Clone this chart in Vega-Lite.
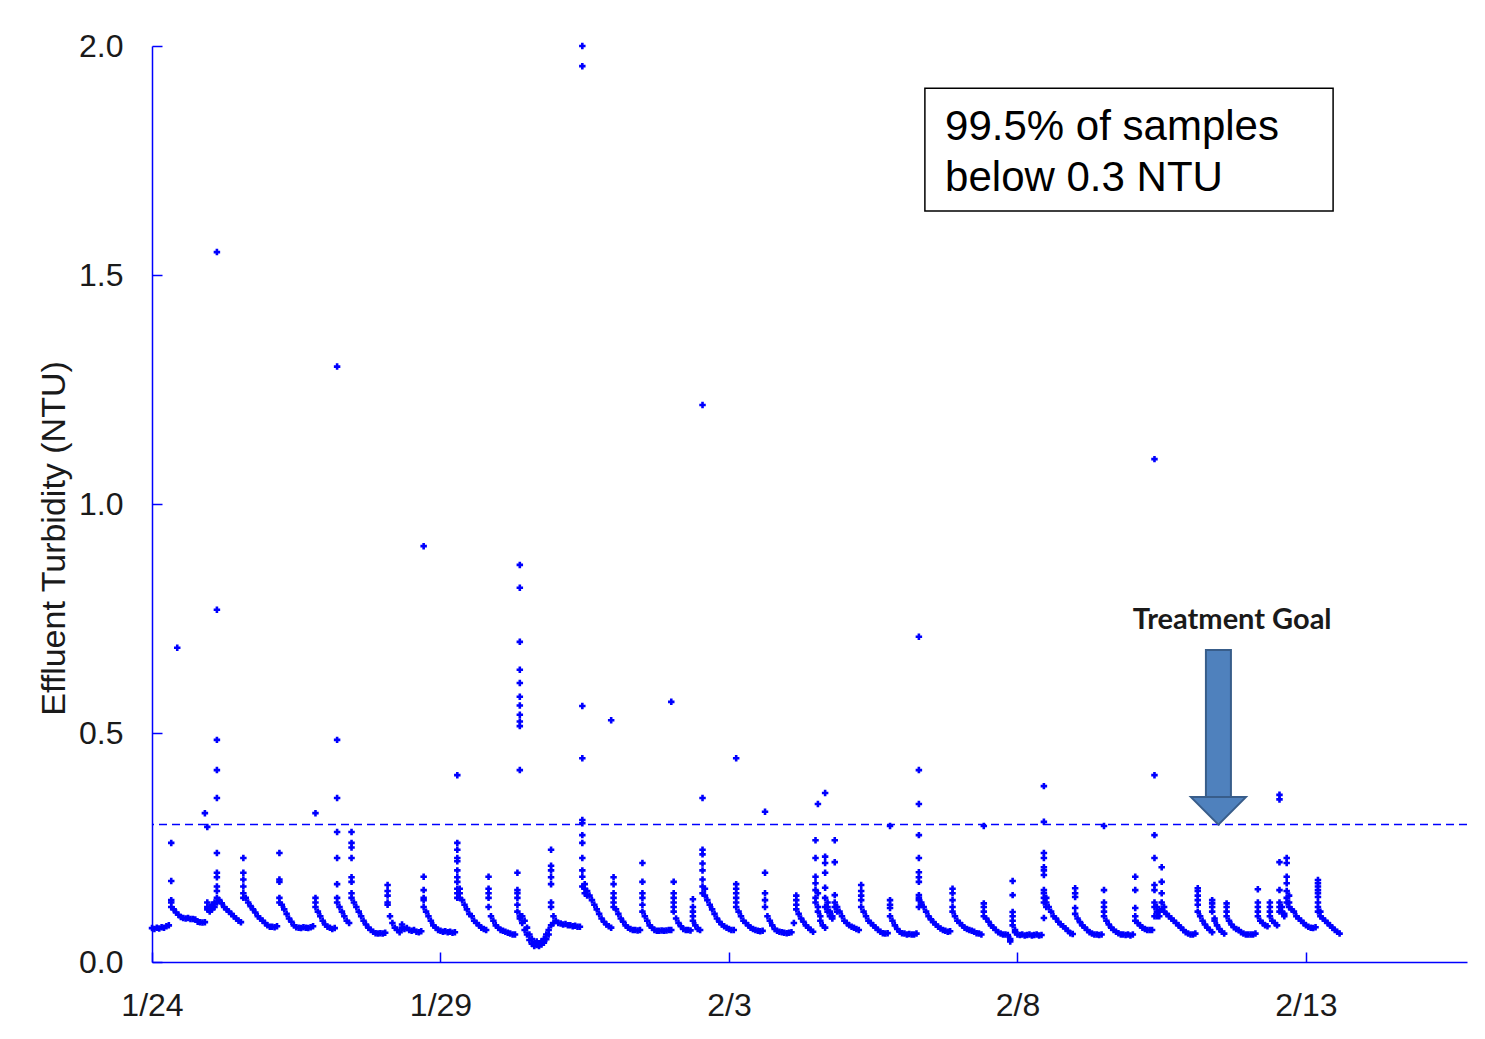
{
"$schema":"https://vega.github.io/schema/vega-lite/v6.json",
"width":1315,"height":916,
"autosize":{"type":"none"},
"padding":{"left":152,"top":46,"right":18,"bottom":77},
"background":"#ffffff",
"config":{"view":{"stroke":null},"axis":{"grid":false,"domainColor":"#0000ff","domainWidth":1.5,"tickColor":"#0000ff","tickWidth":1.5,"labelFont":"Liberation Sans","labelColor":"#1a1a1a","titleFont":"Liberation Sans","titleColor":"#1a1a1a"}},
"datasets":{
"turb":[
{"t":"2011-01-24T00:00","v":0.074},{"t":"2011-01-24T01:00","v":0.072},{"t":"2011-01-24T02:00","v":0.075},{"t":"2011-01-24T03:00","v":0.073},{"t":"2011-01-24T04:00","v":0.076},{"t":"2011-01-24T05:00","v":0.075},{"t":"2011-01-24T06:00","v":0.078},{"t":"2011-01-24T07:00","v":0.08},
{"t":"2011-01-24T08:00","v":0.26},{"t":"2011-01-24T08:00","v":0.177},{"t":"2011-01-24T08:00","v":0.135},{"t":"2011-01-24T08:00","v":0.13},{"t":"2011-01-24T08:00","v":0.12},
{"t":"2011-01-24T09:00","v":0.115},{"t":"2011-01-24T10:00","v":0.108},{"t":"2011-01-24T10:30","v":0.686},{"t":"2011-01-24T11:00","v":0.103},{"t":"2011-01-24T12:00","v":0.098},{"t":"2011-01-24T13:00","v":0.096},{"t":"2011-01-24T14:00","v":0.095},{"t":"2011-01-24T15:00","v":0.096},{"t":"2011-01-24T16:00","v":0.094},{"t":"2011-01-24T17:00","v":0.094},{"t":"2011-01-24T18:00","v":0.093},{"t":"2011-01-24T19:00","v":0.088},{"t":"2011-01-24T20:00","v":0.087},{"t":"2011-01-24T21:00","v":0.086},{"t":"2011-01-24T22:00","v":0.087},{"t":"2011-01-24T22:00","v":0.325},
{"t":"2011-01-24T23:00","v":0.295},{"t":"2011-01-24T23:00","v":0.13},{"t":"2011-01-24T23:00","v":0.12},{"t":"2011-01-24T23:00","v":0.115},
{"t":"2011-01-25T00:00","v":0.12},{"t":"2011-01-25T00:00","v":0.11},{"t":"2011-01-25T01:00","v":0.115},{"t":"2011-01-25T01:00","v":0.125},{"t":"2011-01-25T02:00","v":0.13},{"t":"2011-01-25T02:00","v":0.12},
{"t":"2011-01-25T03:00","v":1.55},{"t":"2011-01-25T03:00","v":0.769},{"t":"2011-01-25T03:00","v":0.485},{"t":"2011-01-25T03:00","v":0.419},{"t":"2011-01-25T03:00","v":0.358},{"t":"2011-01-25T03:00","v":0.238},{"t":"2011-01-25T03:00","v":0.195},{"t":"2011-01-25T03:00","v":0.185},{"t":"2011-01-25T03:00","v":0.165},{"t":"2011-01-25T03:00","v":0.155},{"t":"2011-01-25T03:00","v":0.14},{"t":"2011-01-25T03:00","v":0.13},
{"t":"2011-01-25T04:00","v":0.135},{"t":"2011-01-25T05:00","v":0.128},{"t":"2011-01-25T06:00","v":0.12},{"t":"2011-01-25T07:00","v":0.115},{"t":"2011-01-25T08:00","v":0.11},{"t":"2011-01-25T09:00","v":0.105},{"t":"2011-01-25T10:00","v":0.1},{"t":"2011-01-25T11:00","v":0.095},{"t":"2011-01-25T12:00","v":0.09},{"t":"2011-01-25T13:00","v":0.087},
{"t":"2011-01-25T14:00","v":0.227},{"t":"2011-01-25T14:00","v":0.195},{"t":"2011-01-25T14:00","v":0.18},{"t":"2011-01-25T14:00","v":0.165},{"t":"2011-01-25T14:00","v":0.15},{"t":"2011-01-25T14:00","v":0.14},
{"t":"2011-01-25T15:00","v":0.14},{"t":"2011-01-25T16:00","v":0.13},{"t":"2011-01-25T17:00","v":0.122},{"t":"2011-01-25T18:00","v":0.115},{"t":"2011-01-25T19:00","v":0.108},{"t":"2011-01-25T20:00","v":0.1},{"t":"2011-01-25T21:00","v":0.095},{"t":"2011-01-25T22:00","v":0.09},{"t":"2011-01-25T23:00","v":0.085},
{"t":"2011-01-26T00:00","v":0.08},{"t":"2011-01-26T01:00","v":0.077},{"t":"2011-01-26T02:00","v":0.077},{"t":"2011-01-26T03:00","v":0.076},{"t":"2011-01-26T04:00","v":0.078},
{"t":"2011-01-26T05:00","v":0.238},{"t":"2011-01-26T05:00","v":0.18},{"t":"2011-01-26T05:00","v":0.175},{"t":"2011-01-26T05:00","v":0.14},{"t":"2011-01-26T05:00","v":0.13},
{"t":"2011-01-26T06:00","v":0.125},{"t":"2011-01-26T07:00","v":0.115},{"t":"2011-01-26T08:00","v":0.105},{"t":"2011-01-26T09:00","v":0.095},{"t":"2011-01-26T10:00","v":0.088},{"t":"2011-01-26T11:00","v":0.08},{"t":"2011-01-26T12:00","v":0.076},{"t":"2011-01-26T13:00","v":0.075},{"t":"2011-01-26T14:00","v":0.074},{"t":"2011-01-26T15:00","v":0.076},{"t":"2011-01-26T16:00","v":0.075},{"t":"2011-01-26T17:00","v":0.074},{"t":"2011-01-26T18:00","v":0.076},{"t":"2011-01-26T19:00","v":0.078},
{"t":"2011-01-26T20:00","v":0.325},{"t":"2011-01-26T20:00","v":0.14},{"t":"2011-01-26T20:00","v":0.13},{"t":"2011-01-26T20:00","v":0.12},
{"t":"2011-01-26T21:00","v":0.11},{"t":"2011-01-26T22:00","v":0.1},{"t":"2011-01-26T23:00","v":0.09},
{"t":"2011-01-27T00:00","v":0.082},{"t":"2011-01-27T01:00","v":0.077},{"t":"2011-01-27T02:00","v":0.075},{"t":"2011-01-27T03:00","v":0.072},{"t":"2011-01-27T04:00","v":0.074},
{"t":"2011-01-27T05:00","v":1.3},{"t":"2011-01-27T05:00","v":0.485},{"t":"2011-01-27T05:00","v":0.358},{"t":"2011-01-27T05:00","v":0.284},{"t":"2011-01-27T05:00","v":0.227},{"t":"2011-01-27T05:00","v":0.17},{"t":"2011-01-27T05:00","v":0.14},{"t":"2011-01-27T05:00","v":0.13},
{"t":"2011-01-27T06:00","v":0.12},{"t":"2011-01-27T07:00","v":0.11},{"t":"2011-01-27T08:00","v":0.1},{"t":"2011-01-27T09:00","v":0.09},{"t":"2011-01-27T10:00","v":0.085},
{"t":"2011-01-27T11:00","v":0.284},{"t":"2011-01-27T11:00","v":0.26},{"t":"2011-01-27T11:00","v":0.25},{"t":"2011-01-27T11:00","v":0.227},{"t":"2011-01-27T11:00","v":0.185},{"t":"2011-01-27T11:00","v":0.175},{"t":"2011-01-27T11:00","v":0.15},{"t":"2011-01-27T11:00","v":0.14},
{"t":"2011-01-27T12:00","v":0.13},{"t":"2011-01-27T13:00","v":0.12},{"t":"2011-01-27T14:00","v":0.11},{"t":"2011-01-27T15:00","v":0.1},{"t":"2011-01-27T16:00","v":0.09},{"t":"2011-01-27T17:00","v":0.082},{"t":"2011-01-27T18:00","v":0.075},{"t":"2011-01-27T19:00","v":0.07},{"t":"2011-01-27T20:00","v":0.066},{"t":"2011-01-27T21:00","v":0.063},{"t":"2011-01-27T22:00","v":0.062},{"t":"2011-01-27T23:00","v":0.063},
{"t":"2011-01-28T00:00","v":0.062},{"t":"2011-01-28T01:00","v":0.064},
{"t":"2011-01-28T02:00","v":0.168},{"t":"2011-01-28T02:00","v":0.155},{"t":"2011-01-28T02:00","v":0.145},{"t":"2011-01-28T02:00","v":0.13},{"t":"2011-01-28T02:00","v":0.125},
{"t":"2011-01-28T03:00","v":0.1},{"t":"2011-01-28T04:00","v":0.085},{"t":"2011-01-28T05:00","v":0.075},{"t":"2011-01-28T06:00","v":0.07},{"t":"2011-01-28T07:00","v":0.065},{"t":"2011-01-28T08:00","v":0.082},{"t":"2011-01-28T08:00","v":0.075},{"t":"2011-01-28T09:00","v":0.072},{"t":"2011-01-28T10:00","v":0.074},{"t":"2011-01-28T11:00","v":0.07},{"t":"2011-01-28T12:00","v":0.068},{"t":"2011-01-28T13:00","v":0.07},{"t":"2011-01-28T14:00","v":0.066},{"t":"2011-01-28T15:00","v":0.065},{"t":"2011-01-28T16:00","v":0.067},
{"t":"2011-01-28T17:00","v":0.908},{"t":"2011-01-28T17:00","v":0.186},{"t":"2011-01-28T17:00","v":0.157},{"t":"2011-01-28T17:00","v":0.14},{"t":"2011-01-28T17:00","v":0.135},{"t":"2011-01-28T17:00","v":0.12},
{"t":"2011-01-28T18:00","v":0.11},{"t":"2011-01-28T19:00","v":0.1},{"t":"2011-01-28T20:00","v":0.09},{"t":"2011-01-28T21:00","v":0.08},{"t":"2011-01-28T22:00","v":0.075},{"t":"2011-01-28T23:00","v":0.07},
{"t":"2011-01-29T00:00","v":0.068},{"t":"2011-01-29T01:00","v":0.066},{"t":"2011-01-29T02:00","v":0.067},{"t":"2011-01-29T03:00","v":0.065},{"t":"2011-01-29T04:00","v":0.066},{"t":"2011-01-29T05:00","v":0.064},{"t":"2011-01-29T06:00","v":0.065},
{"t":"2011-01-29T07:00","v":0.408},{"t":"2011-01-29T07:00","v":0.26},{"t":"2011-01-29T07:00","v":0.245},{"t":"2011-01-29T07:00","v":0.227},{"t":"2011-01-29T07:00","v":0.22},{"t":"2011-01-29T07:00","v":0.2},{"t":"2011-01-29T07:00","v":0.185},{"t":"2011-01-29T07:00","v":0.175},{"t":"2011-01-29T07:00","v":0.16},{"t":"2011-01-29T07:00","v":0.15},{"t":"2011-01-29T07:00","v":0.14},
{"t":"2011-01-29T08:00","v":0.16},{"t":"2011-01-29T08:00","v":0.15},{"t":"2011-01-29T08:00","v":0.14},
{"t":"2011-01-29T09:00","v":0.135},{"t":"2011-01-29T10:00","v":0.125},{"t":"2011-01-29T11:00","v":0.115},{"t":"2011-01-29T12:00","v":0.105},{"t":"2011-01-29T13:00","v":0.1},{"t":"2011-01-29T14:00","v":0.09},{"t":"2011-01-29T15:00","v":0.085},{"t":"2011-01-29T16:00","v":0.08},{"t":"2011-01-29T17:00","v":0.075},{"t":"2011-01-29T18:00","v":0.072},{"t":"2011-01-29T19:00","v":0.07},
{"t":"2011-01-29T20:00","v":0.186},{"t":"2011-01-29T20:00","v":0.16},{"t":"2011-01-29T20:00","v":0.15},{"t":"2011-01-29T20:00","v":0.14},{"t":"2011-01-29T20:00","v":0.12},
{"t":"2011-01-29T21:00","v":0.1},{"t":"2011-01-29T22:00","v":0.09},{"t":"2011-01-29T23:00","v":0.08},
{"t":"2011-01-30T00:00","v":0.075},{"t":"2011-01-30T01:00","v":0.07},{"t":"2011-01-30T02:00","v":0.068},{"t":"2011-01-30T03:00","v":0.066},{"t":"2011-01-30T04:00","v":0.064},{"t":"2011-01-30T05:00","v":0.062},{"t":"2011-01-30T06:00","v":0.06},{"t":"2011-01-30T07:00","v":0.06},
{"t":"2011-01-30T08:00","v":0.195},{"t":"2011-01-30T08:00","v":0.157},{"t":"2011-01-30T08:00","v":0.15},{"t":"2011-01-30T08:00","v":0.14},{"t":"2011-01-30T08:00","v":0.125},{"t":"2011-01-30T08:00","v":0.11},
{"t":"2011-01-30T09:00","v":0.867},{"t":"2011-01-30T09:00","v":0.817},{"t":"2011-01-30T09:00","v":0.699},{"t":"2011-01-30T09:00","v":0.638},{"t":"2011-01-30T09:00","v":0.609},{"t":"2011-01-30T09:00","v":0.579},{"t":"2011-01-30T09:00","v":0.56},{"t":"2011-01-30T09:00","v":0.54},{"t":"2011-01-30T09:00","v":0.525},{"t":"2011-01-30T09:00","v":0.515},{"t":"2011-01-30T09:00","v":0.419},{"t":"2011-01-30T09:00","v":0.1},{"t":"2011-01-30T09:00","v":0.095},
{"t":"2011-01-30T10:00","v":0.1},{"t":"2011-01-30T10:00","v":0.085},{"t":"2011-01-30T11:00","v":0.09},{"t":"2011-01-30T11:00","v":0.07},{"t":"2011-01-30T12:00","v":0.075},{"t":"2011-01-30T12:00","v":0.06},{"t":"2011-01-30T13:00","v":0.06},{"t":"2011-01-30T13:00","v":0.048},{"t":"2011-01-30T14:00","v":0.05},{"t":"2011-01-30T14:00","v":0.04},{"t":"2011-01-30T15:00","v":0.04},{"t":"2011-01-30T15:00","v":0.035},{"t":"2011-01-30T16:00","v":0.037},{"t":"2011-01-30T16:00","v":0.045},{"t":"2011-01-30T17:00","v":0.035},{"t":"2011-01-30T17:00","v":0.04},{"t":"2011-01-30T18:00","v":0.038},{"t":"2011-01-30T18:00","v":0.045},{"t":"2011-01-30T19:00","v":0.042},{"t":"2011-01-30T19:00","v":0.05},{"t":"2011-01-30T20:00","v":0.05},{"t":"2011-01-30T20:00","v":0.06},{"t":"2011-01-30T21:00","v":0.06},{"t":"2011-01-30T21:00","v":0.07},
{"t":"2011-01-30T22:00","v":0.245},{"t":"2011-01-30T22:00","v":0.21},{"t":"2011-01-30T22:00","v":0.2},{"t":"2011-01-30T22:00","v":0.185},{"t":"2011-01-30T22:00","v":0.17},{"t":"2011-01-30T22:00","v":0.13},{"t":"2011-01-30T22:00","v":0.12},{"t":"2011-01-30T22:00","v":0.08},
{"t":"2011-01-30T23:00","v":0.1},{"t":"2011-01-30T23:00","v":0.085},
{"t":"2011-01-31T00:00","v":0.09},{"t":"2011-01-31T01:00","v":0.085},{"t":"2011-01-31T02:00","v":0.084},{"t":"2011-01-31T03:00","v":0.082},{"t":"2011-01-31T04:00","v":0.083},{"t":"2011-01-31T05:00","v":0.08},{"t":"2011-01-31T06:00","v":0.08},{"t":"2011-01-31T07:00","v":0.078},{"t":"2011-01-31T08:00","v":0.079},{"t":"2011-01-31T09:00","v":0.077},{"t":"2011-01-31T10:00","v":0.077},
{"t":"2011-01-31T11:00","v":2.0},{"t":"2011-01-31T11:00","v":1.956},{"t":"2011-01-31T11:00","v":0.559},{"t":"2011-01-31T11:00","v":0.445},{"t":"2011-01-31T11:00","v":0.31},{"t":"2011-01-31T11:00","v":0.303},{"t":"2011-01-31T11:00","v":0.277},{"t":"2011-01-31T11:00","v":0.26},{"t":"2011-01-31T11:00","v":0.227},{"t":"2011-01-31T11:00","v":0.2},{"t":"2011-01-31T11:00","v":0.186},{"t":"2011-01-31T11:00","v":0.165},
{"t":"2011-01-31T12:00","v":0.17},{"t":"2011-01-31T12:00","v":0.16},{"t":"2011-01-31T12:00","v":0.15},{"t":"2011-01-31T13:00","v":0.155},{"t":"2011-01-31T13:00","v":0.145},{"t":"2011-01-31T14:00","v":0.145},{"t":"2011-01-31T15:00","v":0.135},{"t":"2011-01-31T16:00","v":0.125},{"t":"2011-01-31T17:00","v":0.115},{"t":"2011-01-31T18:00","v":0.105},{"t":"2011-01-31T19:00","v":0.095},{"t":"2011-01-31T20:00","v":0.088},{"t":"2011-01-31T21:00","v":0.082},{"t":"2011-01-31T22:00","v":0.078},
{"t":"2011-01-31T23:00","v":0.528},{"t":"2011-01-31T23:00","v":0.075},
{"t":"2011-02-01T00:00","v":0.185},{"t":"2011-02-01T00:00","v":0.17},{"t":"2011-02-01T00:00","v":0.15},{"t":"2011-02-01T00:00","v":0.14},{"t":"2011-02-01T00:00","v":0.13},{"t":"2011-02-01T00:00","v":0.12},
{"t":"2011-02-01T01:00","v":0.115},{"t":"2011-02-01T02:00","v":0.105},{"t":"2011-02-01T03:00","v":0.095},{"t":"2011-02-01T04:00","v":0.088},{"t":"2011-02-01T05:00","v":0.08},{"t":"2011-02-01T06:00","v":0.075},{"t":"2011-02-01T07:00","v":0.072},{"t":"2011-02-01T08:00","v":0.07},{"t":"2011-02-01T09:00","v":0.07},{"t":"2011-02-01T10:00","v":0.069},{"t":"2011-02-01T11:00","v":0.07},
{"t":"2011-02-01T12:00","v":0.216},{"t":"2011-02-01T12:00","v":0.175},{"t":"2011-02-01T12:00","v":0.15},{"t":"2011-02-01T12:00","v":0.14},{"t":"2011-02-01T12:00","v":0.125},{"t":"2011-02-01T12:00","v":0.11},
{"t":"2011-02-01T13:00","v":0.1},{"t":"2011-02-01T14:00","v":0.09},{"t":"2011-02-01T15:00","v":0.08},{"t":"2011-02-01T16:00","v":0.075},{"t":"2011-02-01T17:00","v":0.07},{"t":"2011-02-01T18:00","v":0.068},{"t":"2011-02-01T19:00","v":0.068},{"t":"2011-02-01T20:00","v":0.069},{"t":"2011-02-01T21:00","v":0.068},{"t":"2011-02-01T22:00","v":0.069},{"t":"2011-02-01T23:00","v":0.07},
{"t":"2011-02-02T00:00","v":0.568},{"t":"2011-02-02T00:00","v":0.07},
{"t":"2011-02-02T01:00","v":0.175},{"t":"2011-02-02T01:00","v":0.15},{"t":"2011-02-02T01:00","v":0.14},{"t":"2011-02-02T01:00","v":0.13},{"t":"2011-02-02T01:00","v":0.12},{"t":"2011-02-02T01:00","v":0.11},
{"t":"2011-02-02T02:00","v":0.095},{"t":"2011-02-02T03:00","v":0.085},{"t":"2011-02-02T04:00","v":0.078},{"t":"2011-02-02T05:00","v":0.072},{"t":"2011-02-02T06:00","v":0.07},{"t":"2011-02-02T07:00","v":0.07},{"t":"2011-02-02T08:00","v":0.069},
{"t":"2011-02-02T09:00","v":0.137},{"t":"2011-02-02T09:00","v":0.12},{"t":"2011-02-02T09:00","v":0.11},{"t":"2011-02-02T09:00","v":0.1},{"t":"2011-02-02T09:00","v":0.09},
{"t":"2011-02-02T10:00","v":0.08},{"t":"2011-02-02T11:00","v":0.072},{"t":"2011-02-02T12:00","v":0.07},
{"t":"2011-02-02T13:00","v":1.216},{"t":"2011-02-02T13:00","v":0.358},{"t":"2011-02-02T13:00","v":0.245},{"t":"2011-02-02T13:00","v":0.235},{"t":"2011-02-02T13:00","v":0.215},{"t":"2011-02-02T13:00","v":0.2},{"t":"2011-02-02T13:00","v":0.18},{"t":"2011-02-02T13:00","v":0.165},{"t":"2011-02-02T13:00","v":0.15},
{"t":"2011-02-02T14:00","v":0.16},{"t":"2011-02-02T14:00","v":0.145},{"t":"2011-02-02T15:00","v":0.135},{"t":"2011-02-02T16:00","v":0.125},{"t":"2011-02-02T17:00","v":0.115},{"t":"2011-02-02T18:00","v":0.105},{"t":"2011-02-02T19:00","v":0.095},{"t":"2011-02-02T20:00","v":0.088},{"t":"2011-02-02T21:00","v":0.082},{"t":"2011-02-02T22:00","v":0.078},{"t":"2011-02-02T23:00","v":0.075},
{"t":"2011-02-03T00:00","v":0.072},{"t":"2011-02-03T01:00","v":0.07},{"t":"2011-02-03T02:00","v":0.07},
{"t":"2011-02-03T03:00","v":0.445},{"t":"2011-02-03T03:00","v":0.17},{"t":"2011-02-03T03:00","v":0.16},{"t":"2011-02-03T03:00","v":0.15},{"t":"2011-02-03T03:00","v":0.14},{"t":"2011-02-03T03:00","v":0.13},{"t":"2011-02-03T03:00","v":0.12},
{"t":"2011-02-03T04:00","v":0.11},{"t":"2011-02-03T05:00","v":0.1},{"t":"2011-02-03T06:00","v":0.09},{"t":"2011-02-03T07:00","v":0.085},{"t":"2011-02-03T08:00","v":0.08},{"t":"2011-02-03T09:00","v":0.075},{"t":"2011-02-03T10:00","v":0.072},{"t":"2011-02-03T11:00","v":0.07},{"t":"2011-02-03T12:00","v":0.068},{"t":"2011-02-03T13:00","v":0.067},{"t":"2011-02-03T14:00","v":0.068},
{"t":"2011-02-03T15:00","v":0.328},{"t":"2011-02-03T15:00","v":0.195},{"t":"2011-02-03T15:00","v":0.15},{"t":"2011-02-03T15:00","v":0.135},{"t":"2011-02-03T15:00","v":0.12},
{"t":"2011-02-03T16:00","v":0.1},{"t":"2011-02-03T17:00","v":0.09},{"t":"2011-02-03T18:00","v":0.08},{"t":"2011-02-03T19:00","v":0.072},{"t":"2011-02-03T20:00","v":0.068},{"t":"2011-02-03T21:00","v":0.066},{"t":"2011-02-03T22:00","v":0.065},{"t":"2011-02-03T23:00","v":0.064},
{"t":"2011-02-04T00:00","v":0.063},{"t":"2011-02-04T01:00","v":0.064},{"t":"2011-02-04T02:00","v":0.065},{"t":"2011-02-04T03:00","v":0.085},
{"t":"2011-02-04T04:00","v":0.145},{"t":"2011-02-04T04:00","v":0.135},{"t":"2011-02-04T04:00","v":0.125},{"t":"2011-02-04T04:00","v":0.115},
{"t":"2011-02-04T05:00","v":0.105},{"t":"2011-02-04T06:00","v":0.095},{"t":"2011-02-04T07:00","v":0.088},{"t":"2011-02-04T08:00","v":0.08},{"t":"2011-02-04T09:00","v":0.075},{"t":"2011-02-04T10:00","v":0.07},{"t":"2011-02-04T11:00","v":0.066},
{"t":"2011-02-04T12:00","v":0.266},{"t":"2011-02-04T12:00","v":0.227},{"t":"2011-02-04T12:00","v":0.186},{"t":"2011-02-04T12:00","v":0.172},{"t":"2011-02-04T12:00","v":0.157},{"t":"2011-02-04T12:00","v":0.14},{"t":"2011-02-04T12:00","v":0.13},
{"t":"2011-02-04T13:00","v":0.345},{"t":"2011-02-04T13:00","v":0.15},{"t":"2011-02-04T13:00","v":0.12},{"t":"2011-02-04T13:00","v":0.11},
{"t":"2011-02-04T14:00","v":0.1},{"t":"2011-02-04T14:00","v":0.09},{"t":"2011-02-04T15:00","v":0.08},
{"t":"2011-02-04T16:00","v":0.369},{"t":"2011-02-04T16:00","v":0.23},{"t":"2011-02-04T16:00","v":0.216},{"t":"2011-02-04T16:00","v":0.195},{"t":"2011-02-04T16:00","v":0.162},{"t":"2011-02-04T16:00","v":0.14},{"t":"2011-02-04T16:00","v":0.12},{"t":"2011-02-04T16:00","v":0.075},
{"t":"2011-02-04T17:00","v":0.13},{"t":"2011-02-04T17:00","v":0.12},{"t":"2011-02-04T17:00","v":0.11},{"t":"2011-02-04T18:00","v":0.11},{"t":"2011-02-04T18:00","v":0.1},{"t":"2011-02-04T19:00","v":0.095},{"t":"2011-02-04T19:00","v":0.1},
{"t":"2011-02-04T20:00","v":0.266},{"t":"2011-02-04T20:00","v":0.218},{"t":"2011-02-04T20:00","v":0.146},{"t":"2011-02-04T20:00","v":0.13},{"t":"2011-02-04T20:00","v":0.12},
{"t":"2011-02-04T21:00","v":0.12},{"t":"2011-02-04T21:00","v":0.11},{"t":"2011-02-04T22:00","v":0.11},{"t":"2011-02-04T23:00","v":0.1},
{"t":"2011-02-05T00:00","v":0.09},{"t":"2011-02-05T01:00","v":0.085},{"t":"2011-02-05T02:00","v":0.08},{"t":"2011-02-05T03:00","v":0.077},{"t":"2011-02-05T04:00","v":0.075},{"t":"2011-02-05T05:00","v":0.072},{"t":"2011-02-05T06:00","v":0.07},
{"t":"2011-02-05T07:00","v":0.168},{"t":"2011-02-05T07:00","v":0.155},{"t":"2011-02-05T07:00","v":0.145},{"t":"2011-02-05T07:00","v":0.135},{"t":"2011-02-05T07:00","v":0.12},
{"t":"2011-02-05T08:00","v":0.11},{"t":"2011-02-05T09:00","v":0.1},{"t":"2011-02-05T10:00","v":0.09},{"t":"2011-02-05T11:00","v":0.085},{"t":"2011-02-05T12:00","v":0.08},{"t":"2011-02-05T13:00","v":0.075},{"t":"2011-02-05T14:00","v":0.07},{"t":"2011-02-05T15:00","v":0.066},{"t":"2011-02-05T16:00","v":0.063},{"t":"2011-02-05T17:00","v":0.062},{"t":"2011-02-05T18:00","v":0.063},
{"t":"2011-02-05T19:00","v":0.297},{"t":"2011-02-05T19:00","v":0.135},{"t":"2011-02-05T19:00","v":0.125},{"t":"2011-02-05T19:00","v":0.118},{"t":"2011-02-05T19:00","v":0.1},
{"t":"2011-02-05T20:00","v":0.09},{"t":"2011-02-05T21:00","v":0.08},{"t":"2011-02-05T22:00","v":0.072},{"t":"2011-02-05T23:00","v":0.066},
{"t":"2011-02-06T00:00","v":0.063},{"t":"2011-02-06T01:00","v":0.062},{"t":"2011-02-06T02:00","v":0.06},{"t":"2011-02-06T03:00","v":0.061},{"t":"2011-02-06T04:00","v":0.06},{"t":"2011-02-06T05:00","v":0.06},{"t":"2011-02-06T06:00","v":0.062},
{"t":"2011-02-06T07:00","v":0.71},{"t":"2011-02-06T07:00","v":0.419},{"t":"2011-02-06T07:00","v":0.345},{"t":"2011-02-06T07:00","v":0.277},{"t":"2011-02-06T07:00","v":0.227},{"t":"2011-02-06T07:00","v":0.196},{"t":"2011-02-06T07:00","v":0.185},{"t":"2011-02-06T07:00","v":0.175},{"t":"2011-02-06T07:00","v":0.146},{"t":"2011-02-06T07:00","v":0.14},{"t":"2011-02-06T07:00","v":0.135},{"t":"2011-02-06T07:00","v":0.12},
{"t":"2011-02-06T08:00","v":0.13},{"t":"2011-02-06T08:00","v":0.125},{"t":"2011-02-06T09:00","v":0.12},{"t":"2011-02-06T10:00","v":0.11},{"t":"2011-02-06T11:00","v":0.1},{"t":"2011-02-06T12:00","v":0.093},{"t":"2011-02-06T13:00","v":0.087},{"t":"2011-02-06T14:00","v":0.082},{"t":"2011-02-06T15:00","v":0.077},{"t":"2011-02-06T16:00","v":0.073},{"t":"2011-02-06T17:00","v":0.07},{"t":"2011-02-06T18:00","v":0.068},{"t":"2011-02-06T19:00","v":0.066},{"t":"2011-02-06T20:00","v":0.067},
{"t":"2011-02-06T21:00","v":0.16},{"t":"2011-02-06T21:00","v":0.15},{"t":"2011-02-06T21:00","v":0.135},{"t":"2011-02-06T21:00","v":0.12},{"t":"2011-02-06T21:00","v":0.11},
{"t":"2011-02-06T22:00","v":0.1},{"t":"2011-02-06T23:00","v":0.09},
{"t":"2011-02-07T00:00","v":0.085},{"t":"2011-02-07T01:00","v":0.08},{"t":"2011-02-07T02:00","v":0.075},{"t":"2011-02-07T03:00","v":0.072},{"t":"2011-02-07T04:00","v":0.07},{"t":"2011-02-07T05:00","v":0.068},{"t":"2011-02-07T06:00","v":0.066},{"t":"2011-02-07T07:00","v":0.063},{"t":"2011-02-07T08:00","v":0.062},{"t":"2011-02-07T09:00","v":0.06},
{"t":"2011-02-07T10:00","v":0.297},{"t":"2011-02-07T10:00","v":0.128},{"t":"2011-02-07T10:00","v":0.12},{"t":"2011-02-07T10:00","v":0.11},{"t":"2011-02-07T10:00","v":0.1},
{"t":"2011-02-07T11:00","v":0.095},{"t":"2011-02-07T12:00","v":0.088},{"t":"2011-02-07T13:00","v":0.08},{"t":"2011-02-07T14:00","v":0.075},{"t":"2011-02-07T15:00","v":0.07},{"t":"2011-02-07T16:00","v":0.065},{"t":"2011-02-07T17:00","v":0.062},{"t":"2011-02-07T18:00","v":0.06},{"t":"2011-02-07T19:00","v":0.06},{"t":"2011-02-07T20:00","v":0.059},{"t":"2011-02-07T21:00","v":0.05},{"t":"2011-02-07T21:00","v":0.045},
{"t":"2011-02-07T22:00","v":0.177},{"t":"2011-02-07T22:00","v":0.146},{"t":"2011-02-07T22:00","v":0.109},{"t":"2011-02-07T22:00","v":0.1},{"t":"2011-02-07T22:00","v":0.09},{"t":"2011-02-07T22:00","v":0.08},
{"t":"2011-02-07T23:00","v":0.07},{"t":"2011-02-07T23:00","v":0.065},
{"t":"2011-02-08T00:00","v":0.06},{"t":"2011-02-08T01:00","v":0.059},{"t":"2011-02-08T02:00","v":0.06},{"t":"2011-02-08T03:00","v":0.058},{"t":"2011-02-08T04:00","v":0.059},{"t":"2011-02-08T05:00","v":0.06},{"t":"2011-02-08T06:00","v":0.058},{"t":"2011-02-08T07:00","v":0.059},{"t":"2011-02-08T08:00","v":0.06},{"t":"2011-02-08T09:00","v":0.058},{"t":"2011-02-08T10:00","v":0.059},
{"t":"2011-02-08T11:00","v":0.384},{"t":"2011-02-08T11:00","v":0.306},{"t":"2011-02-08T11:00","v":0.238},{"t":"2011-02-08T11:00","v":0.227},{"t":"2011-02-08T11:00","v":0.207},{"t":"2011-02-08T11:00","v":0.2},{"t":"2011-02-08T11:00","v":0.19},{"t":"2011-02-08T11:00","v":0.157},{"t":"2011-02-08T11:00","v":0.15},{"t":"2011-02-08T11:00","v":0.14},{"t":"2011-02-08T11:00","v":0.13},{"t":"2011-02-08T11:00","v":0.096},
{"t":"2011-02-08T12:00","v":0.14},{"t":"2011-02-08T12:00","v":0.13},{"t":"2011-02-08T12:00","v":0.12},{"t":"2011-02-08T13:00","v":0.12},{"t":"2011-02-08T14:00","v":0.11},{"t":"2011-02-08T15:00","v":0.1},{"t":"2011-02-08T16:00","v":0.095},{"t":"2011-02-08T17:00","v":0.088},{"t":"2011-02-08T18:00","v":0.082},{"t":"2011-02-08T19:00","v":0.078},{"t":"2011-02-08T20:00","v":0.073},{"t":"2011-02-08T21:00","v":0.068},{"t":"2011-02-08T22:00","v":0.063},{"t":"2011-02-08T23:00","v":0.061},
{"t":"2011-02-09T00:00","v":0.161},{"t":"2011-02-09T00:00","v":0.15},{"t":"2011-02-09T00:00","v":0.142},{"t":"2011-02-09T00:00","v":0.118},{"t":"2011-02-09T00:00","v":0.105},
{"t":"2011-02-09T01:00","v":0.095},{"t":"2011-02-09T02:00","v":0.087},{"t":"2011-02-09T03:00","v":0.08},{"t":"2011-02-09T04:00","v":0.075},{"t":"2011-02-09T05:00","v":0.07},{"t":"2011-02-09T06:00","v":0.065},{"t":"2011-02-09T07:00","v":0.062},{"t":"2011-02-09T08:00","v":0.06},{"t":"2011-02-09T09:00","v":0.06},{"t":"2011-02-09T10:00","v":0.059},{"t":"2011-02-09T11:00","v":0.06},
{"t":"2011-02-09T12:00","v":0.297},{"t":"2011-02-09T12:00","v":0.157},{"t":"2011-02-09T12:00","v":0.13},{"t":"2011-02-09T12:00","v":0.12},{"t":"2011-02-09T12:00","v":0.11},{"t":"2011-02-09T12:00","v":0.1},
{"t":"2011-02-09T13:00","v":0.09},{"t":"2011-02-09T14:00","v":0.082},{"t":"2011-02-09T15:00","v":0.075},{"t":"2011-02-09T16:00","v":0.07},{"t":"2011-02-09T17:00","v":0.066},{"t":"2011-02-09T18:00","v":0.063},{"t":"2011-02-09T19:00","v":0.06},{"t":"2011-02-09T20:00","v":0.06},{"t":"2011-02-09T21:00","v":0.059},{"t":"2011-02-09T22:00","v":0.06},{"t":"2011-02-09T23:00","v":0.058},
{"t":"2011-02-10T00:00","v":0.06},
{"t":"2011-02-10T01:00","v":0.186},{"t":"2011-02-10T01:00","v":0.157},{"t":"2011-02-10T01:00","v":0.118},{"t":"2011-02-10T01:00","v":0.1},{"t":"2011-02-10T01:00","v":0.09},
{"t":"2011-02-10T02:00","v":0.085},{"t":"2011-02-10T03:00","v":0.08},{"t":"2011-02-10T04:00","v":0.075},{"t":"2011-02-10T05:00","v":0.072},{"t":"2011-02-10T06:00","v":0.07},{"t":"2011-02-10T07:00","v":0.07},{"t":"2011-02-10T08:00","v":0.07},
{"t":"2011-02-10T09:00","v":1.098},{"t":"2011-02-10T09:00","v":0.408},{"t":"2011-02-10T09:00","v":0.277},{"t":"2011-02-10T09:00","v":0.227},{"t":"2011-02-10T09:00","v":0.168},{"t":"2011-02-10T09:00","v":0.157},{"t":"2011-02-10T09:00","v":0.13},{"t":"2011-02-10T09:00","v":0.12},{"t":"2011-02-10T09:00","v":0.1},
{"t":"2011-02-10T10:00","v":0.12},{"t":"2011-02-10T10:00","v":0.11},{"t":"2011-02-10T10:00","v":0.1},{"t":"2011-02-10T11:00","v":0.11},{"t":"2011-02-10T11:00","v":0.1},
{"t":"2011-02-10T12:00","v":0.207},{"t":"2011-02-10T12:00","v":0.175},{"t":"2011-02-10T12:00","v":0.15},{"t":"2011-02-10T12:00","v":0.13},{"t":"2011-02-10T12:00","v":0.115},
{"t":"2011-02-10T13:00","v":0.12},{"t":"2011-02-10T13:00","v":0.11},{"t":"2011-02-10T14:00","v":0.105},{"t":"2011-02-10T15:00","v":0.1},{"t":"2011-02-10T16:00","v":0.095},{"t":"2011-02-10T17:00","v":0.09},{"t":"2011-02-10T18:00","v":0.085},{"t":"2011-02-10T19:00","v":0.08},{"t":"2011-02-10T20:00","v":0.075},{"t":"2011-02-10T21:00","v":0.07},{"t":"2011-02-10T22:00","v":0.065},{"t":"2011-02-10T23:00","v":0.062},
{"t":"2011-02-11T00:00","v":0.06},{"t":"2011-02-11T01:00","v":0.06},{"t":"2011-02-11T02:00","v":0.062},
{"t":"2011-02-11T03:00","v":0.161},{"t":"2011-02-11T03:00","v":0.155},{"t":"2011-02-11T03:00","v":0.145},{"t":"2011-02-11T03:00","v":0.135},{"t":"2011-02-11T03:00","v":0.125},{"t":"2011-02-11T03:00","v":0.11},
{"t":"2011-02-11T04:00","v":0.1},{"t":"2011-02-11T05:00","v":0.09},{"t":"2011-02-11T06:00","v":0.082},{"t":"2011-02-11T07:00","v":0.075},{"t":"2011-02-11T08:00","v":0.07},
{"t":"2011-02-11T09:00","v":0.135},{"t":"2011-02-11T09:00","v":0.128},{"t":"2011-02-11T09:00","v":0.12},{"t":"2011-02-11T09:00","v":0.11},{"t":"2011-02-11T09:00","v":0.065},
{"t":"2011-02-11T10:00","v":0.095},{"t":"2011-02-11T10:00","v":0.09},{"t":"2011-02-11T11:00","v":0.08},{"t":"2011-02-11T12:00","v":0.072},{"t":"2011-02-11T13:00","v":0.066},{"t":"2011-02-11T14:00","v":0.062},
{"t":"2011-02-11T15:00","v":0.128},{"t":"2011-02-11T15:00","v":0.12},{"t":"2011-02-11T15:00","v":0.11},{"t":"2011-02-11T15:00","v":0.1},
{"t":"2011-02-11T16:00","v":0.09},{"t":"2011-02-11T17:00","v":0.082},{"t":"2011-02-11T18:00","v":0.076},{"t":"2011-02-11T19:00","v":0.072},{"t":"2011-02-11T20:00","v":0.07},{"t":"2011-02-11T21:00","v":0.065},{"t":"2011-02-11T22:00","v":0.062},{"t":"2011-02-11T23:00","v":0.06},
{"t":"2011-02-12T00:00","v":0.06},{"t":"2011-02-12T01:00","v":0.06},{"t":"2011-02-12T02:00","v":0.06},{"t":"2011-02-12T03:00","v":0.062},
{"t":"2011-02-12T04:00","v":0.159},{"t":"2011-02-12T04:00","v":0.13},{"t":"2011-02-12T04:00","v":0.12},{"t":"2011-02-12T04:00","v":0.11},{"t":"2011-02-12T04:00","v":0.1},
{"t":"2011-02-12T05:00","v":0.09},{"t":"2011-02-12T06:00","v":0.085},{"t":"2011-02-12T07:00","v":0.08},{"t":"2011-02-12T08:00","v":0.078},
{"t":"2011-02-12T09:00","v":0.13},{"t":"2011-02-12T09:00","v":0.12},{"t":"2011-02-12T09:00","v":0.11},{"t":"2011-02-12T09:00","v":0.1},
{"t":"2011-02-12T10:00","v":0.09},{"t":"2011-02-12T11:00","v":0.085},{"t":"2011-02-12T12:00","v":0.08},
{"t":"2011-02-12T13:00","v":0.365},{"t":"2011-02-12T13:00","v":0.355},{"t":"2011-02-12T13:00","v":0.218},{"t":"2011-02-12T13:00","v":0.157},{"t":"2011-02-12T13:00","v":0.13},{"t":"2011-02-12T13:00","v":0.12},{"t":"2011-02-12T13:00","v":0.11},
{"t":"2011-02-12T14:00","v":0.12},{"t":"2011-02-12T14:00","v":0.11},{"t":"2011-02-12T15:00","v":0.105},{"t":"2011-02-12T15:00","v":0.1},
{"t":"2011-02-12T16:00","v":0.227},{"t":"2011-02-12T16:00","v":0.216},{"t":"2011-02-12T16:00","v":0.186},{"t":"2011-02-12T16:00","v":0.172},{"t":"2011-02-12T16:00","v":0.155},{"t":"2011-02-12T16:00","v":0.14},{"t":"2011-02-12T16:00","v":0.13},
{"t":"2011-02-12T17:00","v":0.145},{"t":"2011-02-12T17:00","v":0.13},{"t":"2011-02-12T17:00","v":0.12},{"t":"2011-02-12T18:00","v":0.115},{"t":"2011-02-12T19:00","v":0.11},{"t":"2011-02-12T20:00","v":0.1},{"t":"2011-02-12T21:00","v":0.095},{"t":"2011-02-12T22:00","v":0.09},{"t":"2011-02-12T23:00","v":0.085},
{"t":"2011-02-13T00:00","v":0.08},{"t":"2011-02-13T01:00","v":0.077},{"t":"2011-02-13T02:00","v":0.075},{"t":"2011-02-13T03:00","v":0.074},{"t":"2011-02-13T04:00","v":0.076},
{"t":"2011-02-13T05:00","v":0.179},{"t":"2011-02-13T05:00","v":0.172},{"t":"2011-02-13T05:00","v":0.165},{"t":"2011-02-13T05:00","v":0.157},{"t":"2011-02-13T05:00","v":0.15},{"t":"2011-02-13T05:00","v":0.142},{"t":"2011-02-13T05:00","v":0.13},{"t":"2011-02-13T05:00","v":0.12},{"t":"2011-02-13T05:00","v":0.11},
{"t":"2011-02-13T06:00","v":0.11},{"t":"2011-02-13T06:00","v":0.1},{"t":"2011-02-13T07:00","v":0.095},{"t":"2011-02-13T08:00","v":0.09},{"t":"2011-02-13T09:00","v":0.085},{"t":"2011-02-13T10:00","v":0.08},{"t":"2011-02-13T11:00","v":0.075},{"t":"2011-02-13T12:00","v":0.07},{"t":"2011-02-13T13:00","v":0.066},{"t":"2011-02-13T14:00","v":0.062}
]},
"layer":[
{"data":{"values":[{"goal":0.3}]},
 "mark":{"type":"rule","color":"#0000ff","strokeWidth":1.5,"strokeDash":[8,5]},
 "encoding":{"y":{"field":"goal","type":"quantitative"}}},
{"data":{"name":"turb"},
 "mark":{"type":"point","shape":"cross","filled":true,"size":42,"color":"#0000ff","opacity":1},
 "encoding":{
  "x":{"field":"t","type":"temporal",
   "scale":{"domain":[{"year":2011,"month":1,"date":24},{"year":2011,"month":2,"date":15,"hours":19}],"nice":false},
   "axis":{"title":null,"values":[{"year":2011,"month":1,"date":24},{"year":2011,"month":1,"date":29},{"year":2011,"month":2,"date":3},{"year":2011,"month":2,"date":8},{"year":2011,"month":2,"date":13}],
    "format":"%-m/%-d","labelFontSize":32,"tickSize":-10,"labelPadding":38,"labelFlush":false,"labelOverlap":false}},
  "y":{"field":"v","type":"quantitative",
   "scale":{"domain":[0,2],"nice":false},
   "axis":{"title":"Effluent Turbidity (NTU)","values":[0,0.5,1,1.5,2],"format":".1f","labelFontSize":32,"tickSize":-10,"labelPadding":39,
    "titleFontSize":34,"titleFontWeight":"normal","titleAngle":270,"titleAlign":"center","titleBaseline":"alphabetic","titleX":-88,"titleY":492}}}},
{"data":{"values":[{"t":"2011-02-06T09:30","t2":"2011-02-13T11:18","v":1.908,"v2":1.64}]},
 "mark":{"type":"rect","fill":"#ffffff","stroke":"#000000","strokeWidth":1.5},
 "encoding":{"x":{"field":"t","type":"temporal"},"x2":{"field":"t2"},"y":{"field":"v","type":"quantitative"},"y2":{"field":"v2"}}},
{"data":{"values":[{"t":"2011-02-06T17:54","v":1.795,"label":"99.5% of samples"},{"t":"2011-02-06T17:54","v":1.684,"label":"below 0.3 NTU"}]},
 "mark":{"type":"text","align":"left","baseline":"alphabetic","font":"Liberation Sans","fontSize":42,"color":"#000000"},
 "encoding":{"x":{"field":"t","type":"temporal"},"y":{"field":"v","type":"quantitative"},"text":{"field":"label"}}},
{"data":{"values":[{"t":"2011-02-11T06:24","t2":"2011-02-11T16:48","v":0.36,"v2":0.681}]},
 "mark":{"type":"rect","fill":"#4f81bd","stroke":"#385d8a","strokeWidth":2},
 "encoding":{"x":{"field":"t","type":"temporal"},"x2":{"field":"t2"},"y":{"field":"v","type":"quantitative"},"y2":{"field":"v2"}}},
{"data":{"values":[{"t":"2011-02-11T11:36","v":0.3}]},
 "mark":{"type":"point","shape":"M-1,-1L1,-1L0,0Z","filled":true,"fill":"#4f81bd","stroke":"#385d8a","strokeWidth":2,"size":3025,"opacity":1},
 "encoding":{"x":{"field":"t","type":"temporal"},"y":{"field":"v","type":"quantitative"}}},
{"data":{"values":[{"t":"2011-02-11T17:18","v":0.727,"label":"Treatment Goal"}]},
 "mark":{"type":"text","align":"center","baseline":"alphabetic","font":"Lato","fontWeight":"bold","fontSize":29,"color":"#1a1a1a"},
 "encoding":{"x":{"field":"t","type":"temporal"},"y":{"field":"v","type":"quantitative"},"text":{"field":"label"}}}
]
}
